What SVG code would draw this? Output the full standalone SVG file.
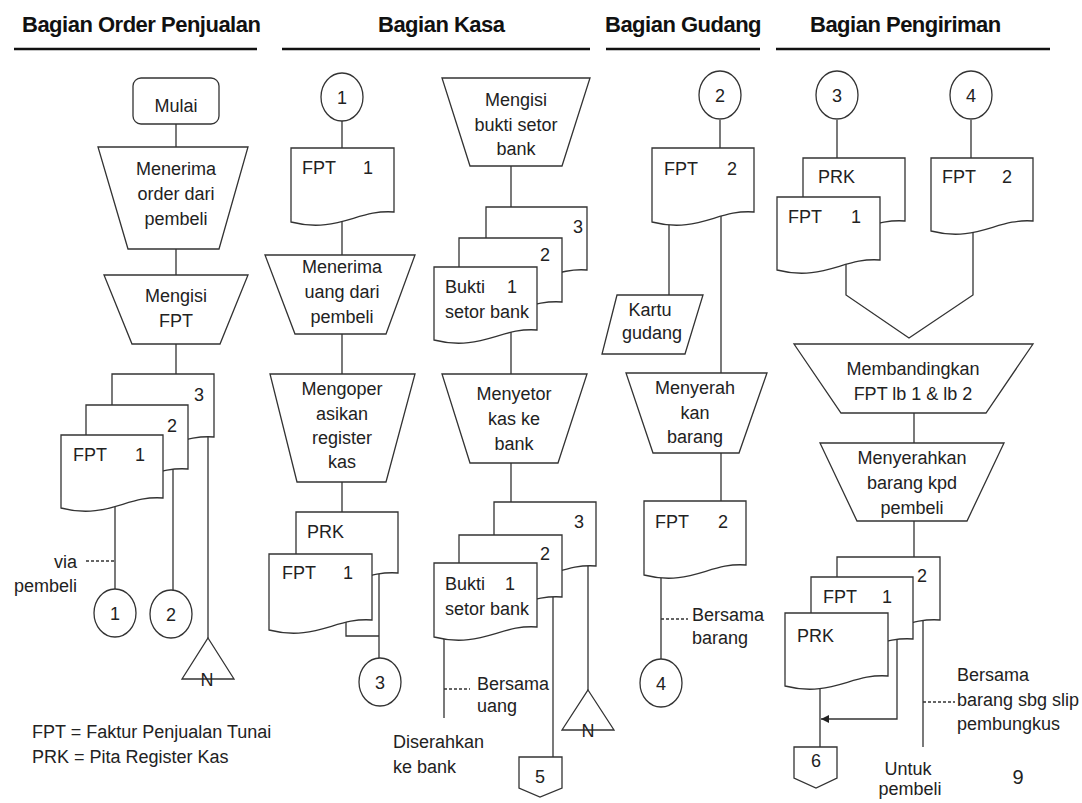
<svg xmlns="http://www.w3.org/2000/svg" width="1082" height="803" viewBox="0 0 1082 803">
<style>
.s{fill:#fff;stroke:#333;stroke-width:1.3}
.c{fill:none;stroke:#333;stroke-width:1.3}
.d{stroke-dasharray:3 2}
.u{stroke:#111;stroke-width:2.5}
text{font-family:"Liberation Sans",Arial,sans-serif;font-size:18px;fill:#222}
.m{text-anchor:middle}
.e{text-anchor:end}
.h{font-weight:bold;font-size:22px;letter-spacing:-0.5px;fill:#111}
</style>
<defs>
<marker id="arr" markerUnits="userSpaceOnUse" markerWidth="9" markerHeight="8" refX="8" refY="4" orient="auto">
<path d="M0 0 L8 4 L0 8 Z" fill="#222"/>
</marker>
</defs>
<rect width="1082" height="803" fill="#fff"/>
<g id="headers">
<text class="h" x="22" y="32">Bagian Order Penjualan</text>
<line class="u" x1="14" y1="49" x2="257" y2="49"/>
<text class="h" x="378" y="32">Bagian Kasa</text>
<line class="u" x1="282" y1="49" x2="590" y2="49"/>
<text class="h" x="605" y="32">Bagian Gudang</text>
<line class="u" x1="606" y1="49" x2="760" y2="49"/>
<text class="h" x="810" y="32">Bagian Pengiriman</text>
<line class="u" x1="776" y1="49" x2="1050" y2="49"/>
</g>
<g id="connectors" class="c">
<path d="M176 124 V147 M176 249 V275 M176 344 V374"/>
<path d="M115 490 V589 M173 460 V590 M208 430 V638"/>
<path class="d" d="M86 561 H115"/>
<path d="M342 121 V148 M342 215 V255 M342 334 V374 M342 482 V512"/>
<path d="M379 570 V658 M346 615 V636 H379"/>
<path d="M511 166 V207 M511 330 V374 M511 463 V502"/>
<path d="M444 630 V718 M553 590 V757 M588 560 V690"/>
<path class="d" d="M444 689 H470"/>
<path d="M720 120 V148 M669 215 V295 M721 205 V373 M721 453 V501 M661 570 V659"/>
<path class="d" d="M661 619 H688"/>
<path d="M837 120 V158 M971 120 V158 M846 255 V295 L909 338 L973 295 V215"/>
<path d="M914 413 V443 M914 521 V557 M820 680 V747 M923 612 V747"/>
<path d="M897 630 V719 H821" marker-end="url(#arr)"/>
<path class="d" d="M923 702 H955"/>
</g>
<g id="mulai"><rect class="s" x="133" y="78" width="86" height="46" rx="8"/><text class="m" x="176" y="112">Mulai</text></g>
<g id="menerima-order"><polygon class="s" points="98,147 248,147 219,249 128,249"/><text class="m" x="176" y="175">Menerima</text><text class="m" x="176" y="200">order dari</text><text class="m" x="176" y="225">pembeli</text></g>
<g id="mengisi-fpt"><polygon class="s" points="104,275 248,275 220,344 132,344"/><text class="m" x="176" y="302">Mengisi</text><text class="m" x="176" y="327">FPT</text></g>
<g id="fpt-stack-order">
<path class="s" d="M112 374 H214 V437 C178 434 158 459 112 447 Z"/><text class="m" x="199" y="401">3</text>
<path class="s" d="M86 405 H188 V469 C152 466 132 491 86 479 Z"/><text class="m" x="172" y="432">2</text>
<path class="s" d="M61 435 H163 V498 C127 495 107 520 61 508 Z"/><text x="73" y="461">FPT</text><text class="m" x="140" y="461">1</text>
</g>
<g id="via-pembeli"><text class="e" x="77" y="568">via</text><text class="e" x="77" y="592">pembeli</text></g>
<g id="conn-o1"><ellipse class="s" cx="115" cy="613" rx="21" ry="24"/><text class="m" x="115" y="620">1</text></g>
<g id="conn-o2"><ellipse class="s" cx="171" cy="614" rx="21" ry="24"/><text class="m" x="171" y="621">2</text></g>
<g id="arsip-n1"><polygon class="s" points="208,638 234,679 182,679"/><text class="m" x="207" y="686">N</text></g>
<g id="legend"><text x="32" y="738">FPT = Faktur Penjualan Tunai</text><text x="32" y="763">PRK = Pita Register Kas</text></g>

<g id="conn-k1"><ellipse class="s" cx="342" cy="97" rx="21" ry="24"/><text class="m" x="342" y="104">1</text></g>
<g id="fpt1-kasa"><path class="s" d="M291 148 H394 V212 C358 209 337 234 291 222 Z"/><text x="302" y="174">FPT</text><text class="m" x="368" y="174">1</text></g>
<g id="menerima-uang"><polygon class="s" points="265,255 415,255 386,334 295,334"/><text class="m" x="342" y="273">Menerima</text><text class="m" x="342" y="298">uang dari</text><text class="m" x="342" y="323">pembeli</text></g>
<g id="mengoperasikan"><polygon class="s" points="270,374 415,374 386,482 297,482"/><text class="m" x="342" y="395">Mengoper</text><text class="m" x="342" y="420">asikan</text><text class="m" x="342" y="444">register</text><text class="m" x="342" y="468">kas</text></g>
<g id="prk-fpt-kasa">
<path class="s" d="M296 512 H398 V573 C362 570 342 595 296 583 Z"/><text x="307" y="538">PRK</text>
<path class="s" d="M269 554 H372 V620 C336 617 315 642 269 630 Z"/><text x="282" y="579">FPT</text><text class="m" x="348" y="579">1</text>
</g>
<g id="conn-k3"><ellipse class="s" cx="380" cy="682" rx="21" ry="24"/><text class="m" x="380" y="689">3</text></g>

<g id="mengisi-bukti"><polygon class="s" points="442,78 590,78 562,166 470,166"/><text class="m" x="516" y="106">Mengisi</text><text class="m" x="516" y="131">bukti setor</text><text class="m" x="516" y="155">bank</text></g>
<g id="bukti-stack-1">
<path class="s" d="M486 207 H587 V270 C551 267 532 292 486 280 Z"/><text class="m" x="578" y="233">3</text>
<path class="s" d="M459 238 H562 V302 C526 299 505 324 459 312 Z"/><text class="m" x="545" y="261">2</text>
<path class="s" d="M434 267 H537 V330 C501 327 480 352 434 340 Z"/><text x="445" y="293">Bukti</text><text class="m" x="512" y="293">1</text><text x="445" y="318">setor bank</text>
</g>
<g id="menyetor"><polygon class="s" points="442,374 587,374 558,463 470,463"/><text class="m" x="514" y="400">Menyetor</text><text class="m" x="514" y="425">kas ke</text><text class="m" x="514" y="450">bank</text></g>
<g id="bukti-stack-2">
<path class="s" d="M494 502 H596 V566 C560 563 540 588 494 576 Z"/><text class="m" x="579" y="528">3</text>
<path class="s" d="M459 535 H562 V597 C526 594 505 619 459 607 Z"/><text class="m" x="545" y="560">2</text>
<path class="s" d="M434 563 H537 V627 C501 624 480 649 434 637 Z"/><text x="445" y="590">Bukti</text><text class="m" x="510" y="590">1</text><text x="445" y="615">setor bank</text>
</g>
<g id="bersama-uang"><text x="477" y="690">Bersama</text><text x="477" y="712">uang</text></g>
<g id="diserahkan"><text x="393" y="748">Diserahkan</text><text x="393" y="773">ke bank</text></g>
<g id="offpage-5"><path class="s" d="M519 757 H562 V788 L540 797 L519 788 Z"/><text class="m" x="540" y="783">5</text></g>
<g id="arsip-n2"><polygon class="s" points="588,690 614,730 562,730"/><text class="m" x="588" y="737">N</text></g>

<g id="conn-g2"><ellipse class="s" cx="720" cy="95" rx="21" ry="24"/><text class="m" x="720" y="102">2</text></g>
<g id="fpt2-gudang"><path class="s" d="M652 148 H754 V212 C718 209 698 234 652 222 Z"/><text x="664" y="175">FPT</text><text class="m" x="732" y="175">2</text></g>
<g id="kartu-gudang"><polygon class="s" points="617,295 703,295 685,354 602,354"/><text class="m" x="650" y="316">Kartu</text><text class="m" x="652" y="339">gudang</text></g>
<g id="menyerahkan-barang"><polygon class="s" points="626,373 767,373 739,453 653,453"/><text class="m" x="695" y="394">Menyerah</text><text class="m" x="695" y="419">kan</text><text class="m" x="695" y="443">barang</text></g>
<g id="fpt2-gudang-b"><path class="s" d="M644 501 H746 V565 C710 562 690 587 644 575 Z"/><text x="655" y="528">FPT</text><text class="m" x="723" y="528">2</text></g>
<g id="bersama-barang"><text x="692" y="621">Bersama</text><text x="692" y="644">barang</text></g>
<g id="conn-g4"><ellipse class="s" cx="661" cy="683" rx="21" ry="24"/><text class="m" x="661" y="690">4</text></g>

<g id="conn-p3"><ellipse class="s" cx="837" cy="95" rx="21" ry="24"/><text class="m" x="837" y="102">3</text></g>
<g id="conn-p4"><ellipse class="s" cx="971" cy="95" rx="21" ry="24"/><text class="m" x="971" y="102">4</text></g>
<g id="prk-fpt1-kirim">
<path class="s" d="M803 158 H905 V221 C869 218 849 243 803 231 Z"/><text x="818" y="183">PRK</text>
<path class="s" d="M777 197 H880 V260 C844 257 823 282 777 270 Z"/><text x="788" y="223">FPT</text><text class="m" x="856" y="223">1</text>
</g>
<g id="fpt2-kirim"><path class="s" d="M931 158 H1033 V221 C997 218 977 243 931 231 Z"/><text x="942" y="183">FPT</text><text class="m" x="1007" y="183">2</text></g>
<g id="membandingkan"><polygon class="s" points="794,344 1033,344 986,413 841,413"/><text class="m" x="913" y="375">Membandingkan</text><text class="m" x="913" y="400">FPT lb 1 &amp; lb 2</text></g>
<g id="menyerahkan-pembeli"><polygon class="s" points="820,443 1004,443 967,521 857,521"/><text class="m" x="912" y="464">Menyerahkan</text><text class="m" x="912" y="489">barang kpd</text><text class="m" x="912" y="514">pembeli</text></g>
<g id="stack-kirim">
<path class="s" d="M837 557 H940 V620 C904 617 883 642 837 630 Z"/><text class="m" x="922" y="582">2</text>
<path class="s" d="M811 577 H913 V639 C877 636 857 661 811 649 Z"/><text x="823" y="603">FPT</text><text class="m" x="887" y="603">1</text>
<path class="s" d="M785 613 H888 V676 C852 673 831 698 785 686 Z"/><text x="797" y="642">PRK</text>
</g>
<g id="bersama-slip"><text x="957" y="681">Bersama</text><text x="957" y="706">barang sbg slip</text><text x="957" y="730">pembungkus</text></g>
<g id="offpage-6"><path class="s" d="M794 747 H837 V778 L816 788 L794 778 Z"/><text class="m" x="816" y="767">6</text></g>
<g id="untuk-pembeli"><text class="m" x="908" y="775">Untuk</text><text class="m" x="910" y="795">pembeli</text></g>
<g id="page"><text class="m" x="1018" y="784" style="font-size:20px">9</text></g>
</svg>
